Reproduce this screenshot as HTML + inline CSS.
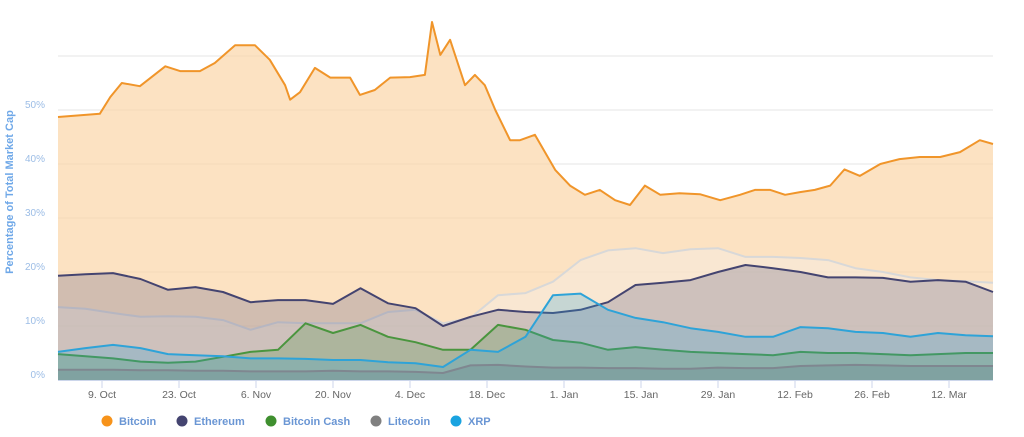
<!DOCTYPE html>
<html><head><meta charset="utf-8"><style>
body{margin:0;background:#fff;}
svg{display:block;font-family:"Liberation Sans",sans-serif;}
</style></head><body>
<svg id="chart" width="1024" height="437" viewBox="0 0 1024 437">
<g id="grid"></g>
<g id="series"></g>
<g id="axes"></g>
<text transform="translate(13,192) rotate(-90)" text-anchor="middle" font-size="11" font-weight="bold" fill="#6fa8e8">Percentage of Total Market Cap</text>
<g id="legend"></g>
</svg>
<script>
const days = [0,5,10,15,20,25,30,35,40,45,50,55,60,65,70,75,80,85,90,95,100,105,110,115,120,125,130,135,140,145,150,155,160,165,170];
const btcDays = [0,7.6,9.5,11.6,14.9,19.5,22.2,25.8,28.5,32.2,35.8,38.5,41.3,42.2,44,46.7,49.5,53.1,54.9,57.6,60.4,64,66.7,68,69.5,71.3,74,75.8,77.6,79.5,82.2,84,86.7,90.4,93.1,95.8,98.5,101.3,104,106.7,109.5,113,116.7,120.4,124,126.7,129.5,132.2,134.9,137.6,140.4,143,145.8,149.5,153,156.7,160.4,164,167.6,170];
const btcValues = [48.7,49.3,52.4,55,54.4,58.1,57.2,57.2,58.7,62,62,59.3,54.6,51.9,53.3,57.8,56,56,52.8,53.7,56,56.1,56.5,66.3,60.2,63,54.6,56.5,54.6,50,44.4,44.4,45.4,38.9,36,34.3,35.2,33.3,32.4,36,34.3,34.6,34.4,33.3,34.3,35.2,35.2,34.3,34.8,35.2,36,39,37.8,40,40.9,41.3,41.3,42.2,44.4,43.7];
const ethValues = [19.3,19.6,19.8,18.7,16.7,17.2,16.3,14.4,14.8,14.8,14.1,17,14.2,13.3,10,11.7,13,12.6,12.4,13,14.4,17.6,18,18.5,20,21.3,20.7,20,19,19,18.9,18.2,18.5,18.2,16.3];
const otherValues = [13.5,13.2,12.4,11.7,11.8,11.7,11.1,9.3,10.7,10.5,10.5,10.5,12.6,13,10.5,11.5,15.7,16.1,18.2,22.2,24,24.4,23.5,24.2,24.4,22.8,22.8,22.6,22.2,20.7,20,19,18.5,18.3,18];
const bchValues = [4.8,4.4,4,3.4,3.2,3.4,4.3,5.2,5.6,10.5,8.7,10.2,8,7,5.6,5.6,10.2,9.3,7.4,6.9,5.6,6.1,5.6,5.2,5,4.8,4.6,5.2,5,5,4.8,4.6,4.8,5,5];
const ltcValues = [1.9,1.9,1.9,1.8,1.8,1.7,1.7,1.6,1.6,1.6,1.7,1.6,1.6,1.5,1.3,2.7,2.8,2.5,2.3,2.3,2.2,2.2,2.1,2.1,2.3,2.2,2.2,2.6,2.7,2.8,2.7,2.6,2.6,2.6,2.6];
const xrpValues = [5.2,5.9,6.5,5.9,4.8,4.6,4.4,4,4,3.9,3.7,3.7,3.3,3.1,2.4,5.6,5.2,8,15.7,16,13,11.5,10.7,9.6,8.9,8,8,9.8,9.6,8.9,8.7,8,8.7,8.3,8.1];
const yTicks = [0,10,20,30,40,50,60];
const xTickDays = [8,22,36,50,64,78,92,106,120,134,148,162];
const xTickLabels = ["9. Oct","23. Oct","6. Nov","20. Nov","4. Dec","18. Dec","1. Jan","15. Jan","29. Jan","12. Feb","26. Feb","12. Mar"];
const legendNames = ["Bitcoin","Ethereum","Bitcoin Cash","Litecoin","XRP"];

const X0=58, X1=993, Y0=380, PX_PER_DAY=5.5, PX_PER_PCT=5.4;
const NS="http://www.w3.org/2000/svg";
function xs(d){return X0+d*PX_PER_DAY;}
function ys(v){return Y0-v*PX_PER_PCT;}
function mk(tag,attrs,parent){const e=document.createElementNS(NS,tag);for(const k in attrs)e.setAttribute(k,attrs[k]);parent.appendChild(e);return e;}

const grid=document.getElementById('grid');
yTicks.forEach(t=>{
  if(t>0){const l=mk('line',{x1:X0,x2:X1,y1:ys(t),y2:ys(t),stroke:'#e6e6e6','stroke-width':1},grid);
  
  }
  if(t<60){const tx=mk('text',{x:45,y:ys(t)-2,'text-anchor':'end','font-size':10,fill:'#9cbde6'},grid);
  tx.textContent=t+'%';
  
  }
});

const sl=document.getElementById('series');
function drawSeries(name,dArr,vArr,color,fill,fillOp,width){
  let pts=dArr.map((d,i)=>xs(d).toFixed(1)+','+ys(vArr[i]).toFixed(1));
  const a=mk('path',{d:'M'+xs(dArr[0])+','+Y0+' L'+pts.join(' L')+' L'+xs(dArr[dArr.length-1])+','+Y0+' Z',fill:fill,'fill-opacity':fillOp,stroke:'none'},sl);
  
  
  const l=mk('path',{d:'M'+pts.join(' L'),fill:'none',stroke:color,'stroke-width':width,'stroke-linejoin':'round'},sl);
  
  
}
drawSeries('bitcoin',btcDays,btcValues,'#f0952a','#fbd7ab',0.72,2);
drawSeries('other',days,otherValues,'#d8d8d8','#f5f0ea',0.4,2);
drawSeries('ethereum',days,ethValues,'#444470','#50507a',0.25,2);
drawSeries('bitcoin-cash',days,bchValues,'#4a953e','#4a953e',0.25,2);
drawSeries('xrp',days,xrpValues,'#2ea3d8','#2ea3d8',0.25,2);
drawSeries('litecoin',days,ltcValues,'#7f8790','#6a8a90',0.35,2);

const ax=document.getElementById('axes');
const base=mk('line',{x1:X0,x2:X1,y1:Y0+0.5,y2:Y0+0.5,stroke:'#ccd6eb','stroke-width':1},ax);


xTickDays.forEach((d,i)=>{
  const t=mk('line',{x1:xs(d),x2:xs(d),y1:Y0,y2:Y0+8,stroke:'#ccd6eb'},ax);
  
  
  const tx=mk('text',{x:xs(d),y:Y0+18,'text-anchor':'middle','font-size':10.5,fill:'#666'},ax);
  tx.textContent=xTickLabels[i];
  
  
});

const lg=document.getElementById('legend');
const lgColors=['#f7931a','#444470','#3f8f2f','#808080','#1aa3e0'];
const lgX=[107,182,271,376,456];
legendNames.forEach((n,i)=>{
  const g=mk('g',{},lg);
  
  
  mk('circle',{cx:lgX[i],cy:421,r:5.5,fill:lgColors[i]},g);
  const t=mk('text',{x:lgX[i]+12,y:425,'font-size':11,'font-weight':'bold',fill:'#6a96d4'},g);
  t.textContent=n;
});
</script>
</body></html>
